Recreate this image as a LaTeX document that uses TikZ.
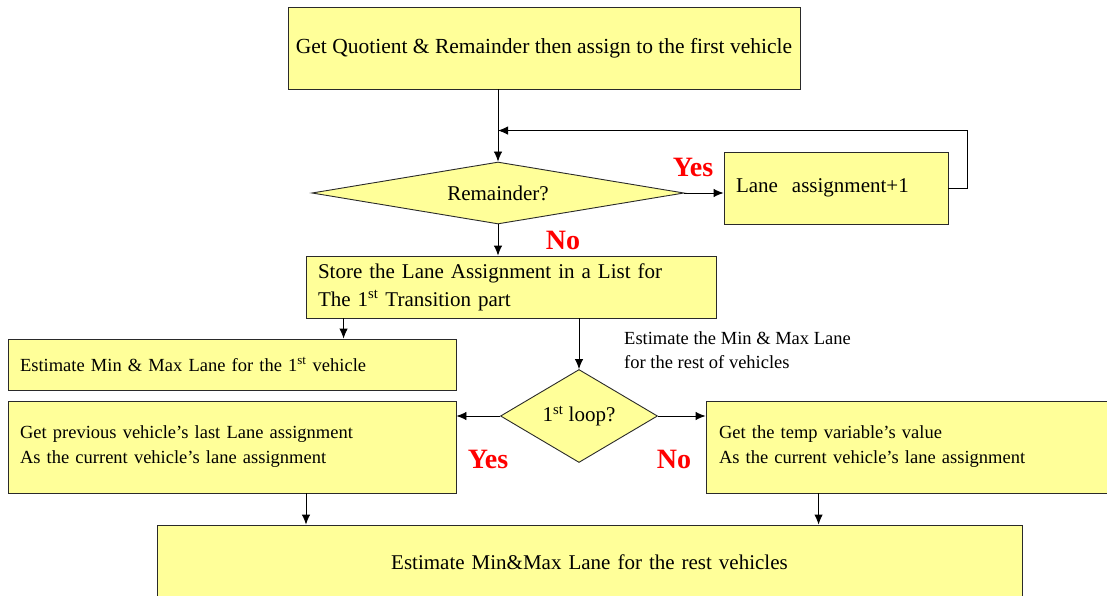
\documentclass[tikz,border=0pt]{standalone}
\usepackage{fontspec}
\setmainfont{Liberation Serif}
\usetikzlibrary{shapes.geometric,arrows.meta,positioning}
\definecolor{boxyellow}{HTML}{FFFF99}
\definecolor{edgegray}{HTML}{2A2A2A}
\definecolor{answerred}{HTML}{FF0000}
\tikzset{
  box/.style={draw=edgegray, fill=boxyellow, line width=0.9pt, rectangle,
    inner xsep=12pt, inner ysep=0pt, align=left,
    font=\fontsize{21}{28}\selectfont},
  smallbox/.style={box, font=\fontsize{18.5}{25}\selectfont},
  decision/.style={draw=edgegray, fill=boxyellow, line width=0.9pt, diamond,
    inner sep=0pt, font=\fontsize{21}{26}\selectfont},
  answer/.style={text=answerred, font=\bfseries\fontsize{28}{30}\selectfont, inner sep=0pt},
  note/.style={align=left, inner sep=0pt, font=\fontsize{18.5}{24}\selectfont},
  arr/.style={draw=black, line width=0.9pt, -{Latex[length=10pt,width=8.5pt]}}
}
\begin{document}
\begin{tikzpicture}[x=1pt,y=-1pt]
\useasboundingbox (0,0) rectangle (1107,596);
\clip (0,0) rectangle (1107,596);
\fill[white] (0,0) rectangle (1107,596);

% process boxes
\node[box, inner xsep=4pt, minimum width=512pt, minimum height=82pt, align=center,
  font=\fontsize{21.5}{26}\selectfont] (top) at (544,48)
  {Get Quotient \& Remainder then assign to the first vehicle};
\node[box, text width=200pt, minimum height=72pt] (lane) at (836,188)
  {Lane\ \ assignment+1};
\node[box, text width=386pt, minimum height=62pt] (store) at (511,287)
  {Store the Lane Assignment in a List for\\The 1\textsuperscript{st} Transition part};
\node[smallbox, text width=424pt, minimum height=51pt] (first) at (232,364.5)
  {Estimate Min \& Max Lane for the 1\textsuperscript{st} vehicle};
\node[smallbox, text width=424pt, minimum height=92pt] (prev) at (232,447)
  {Get previous vehicle's last Lane assignment\\As the current vehicle's lane assignment};
\node[smallbox, inner xsep=13pt, text width=398pt, minimum height=92pt] (temp) at (918,447)
  {Get the temp variable's value\\As the current vehicle's lane assignment};
\node[box, text width=841pt, minimum height=74pt, align=center] (rest) at (589.5,562)
  {Estimate Min\&Max Lane for the rest vehicles};

% decisions
\node[decision, shape aspect=6, minimum width=372pt, minimum height=62pt] (rem) at (498,193)
  {Remainder?};
\node[decision, shape aspect=1.7, minimum width=157pt, minimum height=93pt] (loop) at (579,416)
  {1\textsuperscript{st} loop?};

% free text
\node[note, anchor=west] (est) at (624,350)
  {Estimate the Min \& Max Lane\\for the rest of vehicles};
\node[answer] (yes1) at (693,167) {Yes};
\node[answer] (no1) at (563,240) {No};
\node[answer] (yes2) at (488,459) {Yes};
\node[answer] (no2) at (674,459) {No};

% connectors
\draw[arr] (top.south -| rem.north) -- (rem.north);
\draw[arr] (rem.east) -- (rem.east -| lane.west);
\path (rem.north) ++(0,-31) coordinate (loopj);
\draw[arr] (lane.east) -- ++(19,0) |- (loopj);
\draw[arr] (rem.south) -- (rem.south |- store.north);
\coordinate (s1) at ([xshift=38pt]store.south west);
\draw[arr] (s1) -- (s1 |- first.north);
\draw[arr] (store.south -| loop.north) -- (loop.north);
\draw[arr] (loop.west) -- (loop.west -| prev.east);
\draw[arr] (loop.east) -- (loop.east -| temp.west);
\coordinate (p1) at ([xshift=74pt]prev.south);
\draw[arr] (p1) -- (p1 |- rest.north);
\coordinate (t1) at ([xshift=113pt]temp.south west);
\draw[arr] (t1) -- (t1 |- rest.north);
\end{tikzpicture}
\end{document}
